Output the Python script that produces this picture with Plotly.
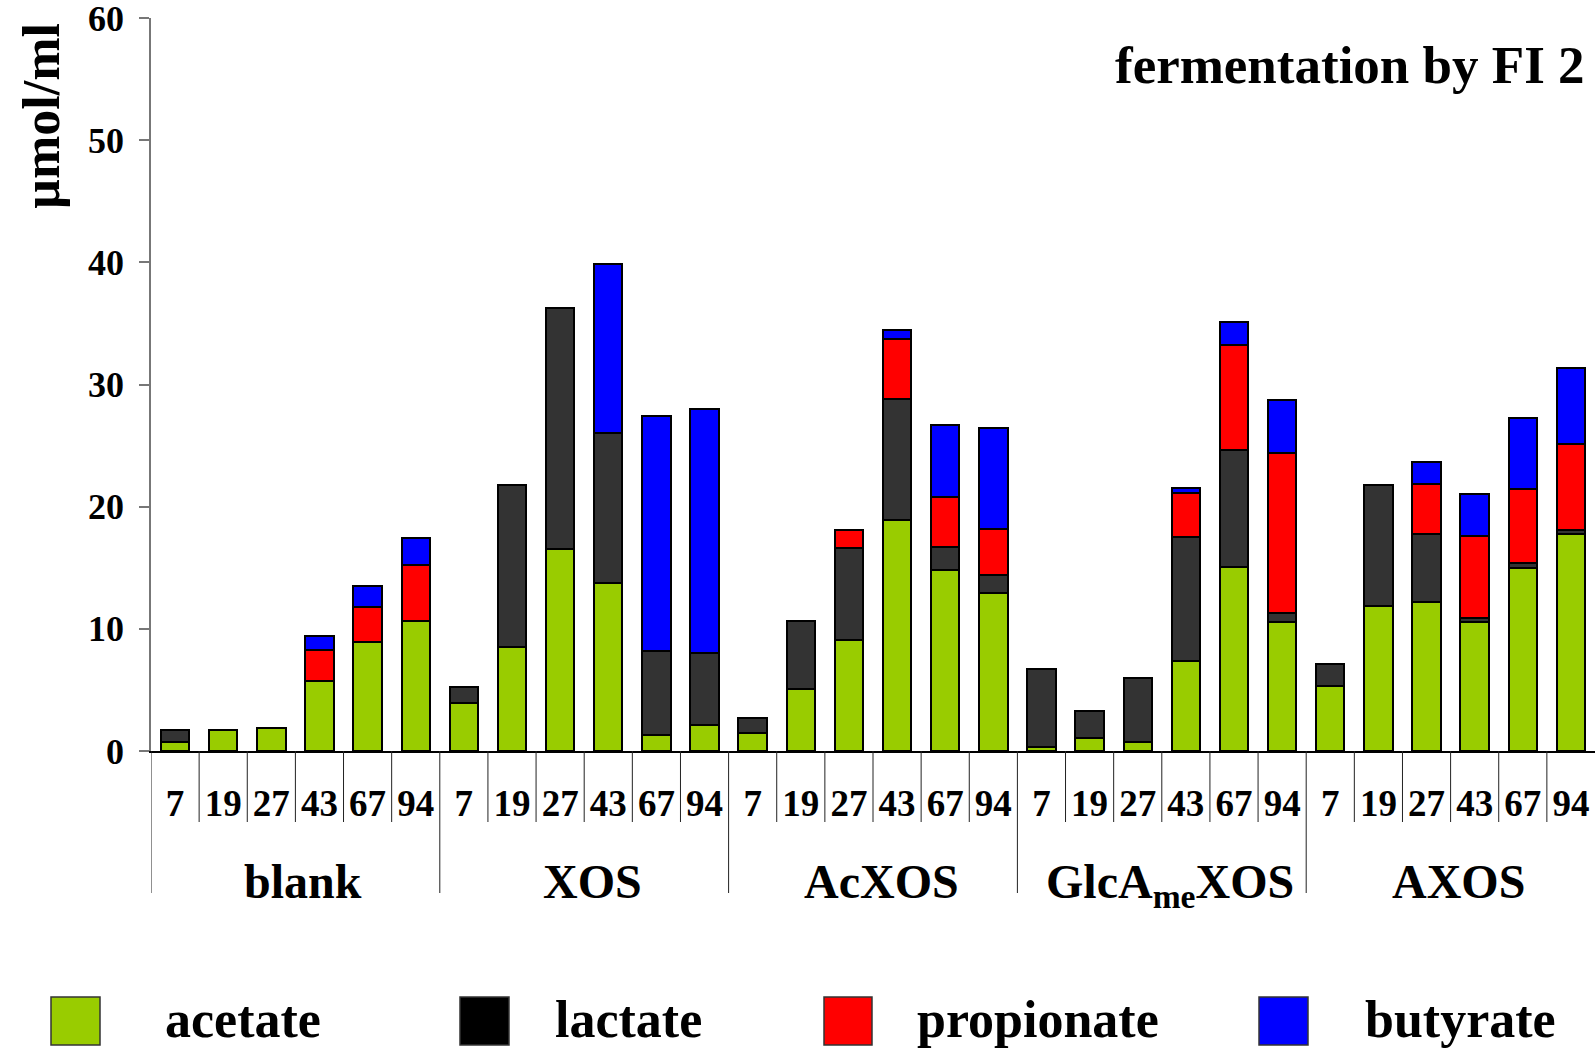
import plotly.graph_objects as go

# ---------------- data ----------------
groups = ["blank", "XOS", "AcXOS", "GlcA<sub>me</sub>XOS", "AXOS"]
times = ["7", "19", "27", "43", "67", "94"]

acetate = [0.75, 1.7, 1.9, 5.7, 8.9, 10.65,
           3.9, 8.5, 16.5, 13.75, 1.3, 2.15,
           1.5, 5.1, 9.05, 18.9, 14.85, 12.9,
           0.35, 1.1, 0.75, 7.35, 15.1, 10.6,
           5.3, 11.9, 12.2, 10.55, 15.0, 17.8]
lactate = [0.95, 0, 0, 0, 0, 0,
           1.3, 13.25, 19.75, 12.25, 6.9, 5.85,
           1.2, 5.55, 7.55, 9.9, 1.85, 1.5,
           6.35, 2.15, 5.2, 10.15, 9.5, 0.7,
           1.8, 9.9, 5.55, 0.3, 0.35, 0.25]
propionate = [0, 0, 0, 2.6, 2.85, 4.55,
              0, 0, 0, 0, 0, 0,
              0, 0, 1.45, 4.9, 4.1, 3.8,
              0, 0, 0, 3.65, 8.6, 13.1,
              0, 0, 4.1, 6.75, 6.1, 7.1]
butyrate = [0, 0, 0, 1.1, 1.75, 2.25,
            0, 0, 0, 13.85, 19.25, 20.0,
            0, 0, 0, 0.8, 5.85, 8.2,
            0, 0, 0, 0.35, 1.9, 4.3,
            0, 0, 1.8, 3.4, 5.8, 6.2]

y_ticks = [0, 10, 20, 30, 40, 50, 60]

series_names = ["acetate", "lactate", "propionate", "butyrate"]
series_values = [acetate, lactate, propionate, butyrate]
series_colors = ["#99CC00", "#333333", "#FF0000", "#0000FF"]
legend_colors = ["#99CC00", "#000000", "#FF0000", "#0000FF"]

title_text = "fermentation by FI 2"
y_title = "µmol/ml"

# ---------------- layout helpers ----------------
FONT = "Liberation Serif"
W_FIG, H_FIG = 1595, 1051
L, R, T, B = 151, 0, 18, 300
PW = W_FIG - L - R
PH = H_FIG - T - B


def px_x(X):
    return (X - L) / PW


def px_y(Y):
    return (T + PH - Y) / PH


n_t = len(times)
n = n_t * len(groups)
xs = list(range(n))

fig = go.Figure()
for name, vals, col in zip(series_names, series_values, series_colors):
    fig.add_trace(go.Bar(
        x=xs,
        y=[v if v else None for v in vals],
        name=name,
        marker=dict(color=col, line=dict(color="#000000", width=2)),
        width=0.59,
        showlegend=False,
    ))

shapes = []
# dividers below axis
for i in range(n):
    long_line = (i % n_t == 0)
    shapes.append(dict(
        type="line", xref="x", yref="paper",
        x0=i - 0.5, x1=i - 0.5,
        y0=0, y1=px_y(893 if long_line else 822),
        line=dict(color="#222222", width=1),
    ))

annotations = []
# group labels
for g, gname in enumerate(groups):
    annotations.append(dict(
        text="<b>%s</b>" % gname, xref="x", yref="paper",
        x=g * n_t + (n_t - 1) / 2, y=px_y(853), xshift=8,
        xanchor="center", yanchor="top", showarrow=False,
        font=dict(family=FONT, size=48, color="black"),
    ))

# title
annotations.append(dict(
    text="<b>%s</b>" % title_text, xref="paper", yref="paper",
    x=px_x(1587), y=px_y(65), xanchor="right", yanchor="middle",
    showarrow=False, font=dict(family=FONT, size=53, color="black"),
))
# y title
annotations.append(dict(
    text="<b>%s</b>" % y_title, xref="paper", yref="paper",
    x=px_x(41), y=px_y(116), xanchor="center", yanchor="middle",
    textangle=-90, showarrow=False,
    font=dict(family=FONT, size=52, color="black"),
))

# custom legend
leg_boxes = [(51, 100), (460, 509), (824, 872), (1259, 1308)]
leg_text_x = [163, 553, 915, 1363]
for (x0, x1), tx, name, col in zip(leg_boxes, leg_text_x, series_names, legend_colors):
    shapes.append(dict(
        type="rect", xref="paper", yref="paper",
        x0=px_x(x0), x1=px_x(x1), y0=px_y(1045), y1=px_y(997),
        fillcolor=col, line=dict(color="#333333", width=1.5),
    ))
    annotations.append(dict(
        text="<b>%s</b>" % name, xref="paper", yref="paper",
        x=px_x(tx), y=px_y(1019), xanchor="left", yanchor="middle",
        showarrow=False, font=dict(family=FONT, size=52, color="black"),
    ))

fig.update_layout(
    width=W_FIG, height=H_FIG,
    margin=dict(l=L, r=R, t=T, b=B, pad=0),
    barmode="stack",
    plot_bgcolor="white", paper_bgcolor="white",
    font=dict(family=FONT, color="black"),
    shapes=shapes,
    annotations=annotations,
    xaxis=dict(
        range=[-0.5, n - 0.5],
        tickmode="array", tickvals=xs, ticktext=times * len(groups),
        ticks="", showline=True, linecolor="black", linewidth=2,
        showgrid=False, zeroline=False,
        tickfont=dict(family=FONT, size=37, color="black", weight="bold"),
        ticklabelstandoff=19,
    ),
    yaxis=dict(
        range=[0, 60], tickmode="array", tickvals=y_ticks,
        ticktext=[str(v) for v in y_ticks],
        ticks="outside", ticklen=10, tickcolor="#777777", tickwidth=1.5,
        showline=True, linecolor="#777777", linewidth=1.5,
        showgrid=False, zeroline=False,
        tickfont=dict(family=FONT, size=36, color="black", weight="bold"),
        ticklabelstandoff=8, ticklabeloverflow="allow",
    ),
)

fig.write_html("out.html", config={"displayModeBar": False},
               post_script="document.body.style.margin='0';document.body.style.overflow='hidden';")
